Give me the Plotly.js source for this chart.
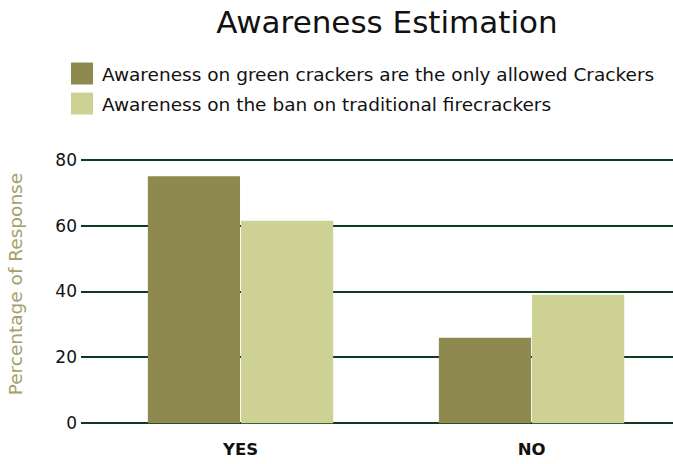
<!DOCTYPE html>
<html>
<head>
<meta charset="utf-8">
<script src="https://cdn.plot.ly/plotly-3.0.1.min.js"></script>
<style>
  html, body { margin: 0; padding: 0; background: #ffffff; }
  #chart { width: 673px; height: 464px; }
</style>
</head>
<body>
<div id="chart"></div>
<script>
// Survey answers
const categories = ["YES", "NO"];
const greenCrackersAware = [75, 26];
const banAware = [61.5, 39];
const seriesNames = [
  "Awareness on green crackers are the only allowed Crackers",
  "Awareness on the ban on traditional firecrackers"
];
const yTicks = [0, 20, 40, 60, 80];
const yAxisTitle = "Percentage of Response";

const FONT = "'DejaVu Sans', sans-serif";

const traces = [
  {
    type: "bar",
    name: seriesNames[0],
    legendgroup: "g1",
    x: categories,
    y: greenCrackersAware,
    marker: { color: "#8e894f" },
    hoverinfo: "x+y"
  },
  {
    type: "bar",
    name: seriesNames[1],
    legendgroup: "g2",
    x: categories,
    y: banAware,
    marker: { color: "#cdd294" },
    hoverinfo: "x+y"
  }
];

const layout = {
  width: 673,
  height: 464,
  paper_bgcolor: "#ffffff",
  plot_bgcolor: "#ffffff",
  font: { family: FONT, color: "#111111", size: 16 },
  margin: { l: 81, r: 0, t: 158, b: 39, autoexpand: false },
  title: {
    text: "Awareness Estimation",
    font: { family: FONT, size: 31, color: "#111111" },
    xref: "container",
    x: 0.575,
    xanchor: "center",
    yref: "container",
    y: 1 - 22 / 464,
    yanchor: "middle"
  },
  barmode: "group",
  bargap: 0.36,
  bargroupgap: 0.01,
  showlegend: true,
  legend: {
    xref: "container",
    yref: "container",
    x: 62 / 673,
    y: 1 - 55 / 464,
    xanchor: "left",
    yanchor: "top",
    traceorder: "grouped",
    tracegroupgap: 3,
    font: { family: FONT, size: 18.5, color: "#111111" },
    bgcolor: "rgba(0,0,0,0)"
  },
  xaxis: {
    type: "category",
    range: [-0.548, 1.486],
    showgrid: false,
    zeroline: false,
    showline: false,
    ticks: "",
    ticklabelstandoff: 12,
    tickfont: { family: FONT, size: 16.5, color: "#111111", weight: "bold" },
    fixedrange: true
  },
  yaxis: {
    range: [-0.5, 80.5],
    tickvals: yTicks,
    ticktext: yTicks.map(String),
    showgrid: true,
    gridcolor: "#0d3b1f",
    gridwidth: 2,
    zeroline: false,
    showline: false,
    ticks: "",
    ticklabelstandoff: 3,
    tickfont: { family: FONT, size: 17, color: "#111111" },
    fixedrange: true
  },
  annotations: [
    {
      text: yAxisTitle,
      textangle: -90,
      xref: "paper",
      yref: "paper",
      x: -0.11,
      y: 0.53,
      xanchor: "center",
      yanchor: "middle",
      showarrow: false,
      font: { family: FONT, size: 18.5, color: "#a3a06a" }
    }
  ]
};

Plotly.newPlot("chart", traces, layout, { displayModeBar: false, staticPlot: true })
  .then(function (gd) {
    // larger square swatches in the legend
    gd.querySelectorAll(".legend .legendpoints path").forEach(function (p) {
      const t = p.getAttribute("transform") || "";
      p.setAttribute("transform", t + " scale(1.83)");
    });
  });
</script>
</body>
</html>
